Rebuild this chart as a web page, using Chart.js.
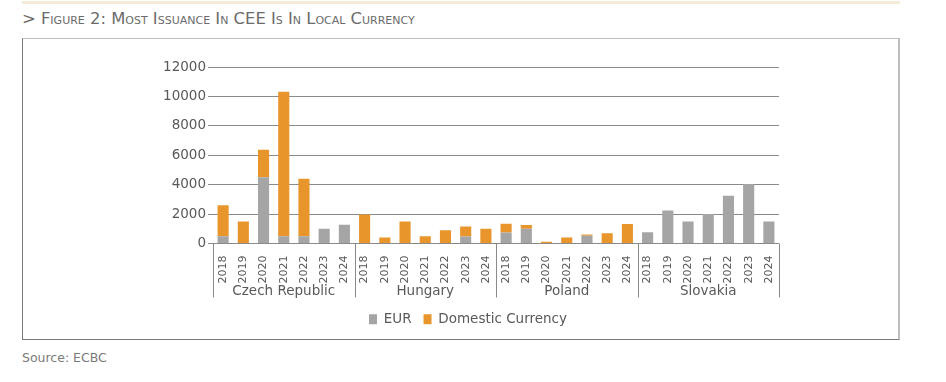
<!DOCTYPE html>
<html>
<head>
<meta charset="utf-8">
<script src="https://cdn.jsdelivr.net/npm/chart.js@4"></script>
<style>
  html, body { margin: 0; padding: 0; background: #fff; }
  body { width: 946px; height: 382px; position: relative; font-family: "DejaVu Sans", Verdana, sans-serif; }
  #topline { position: absolute; left: 22px; top: 1px; width: 878px; height: 3px; background: #f3ecd9; }
  #title { position: absolute; left: 22px; top: 9px; font-size: 16.4px; color: #6b6b6b; font-variant: small-caps; white-space: nowrap; }
  #box { position: absolute; left: 22px; top: 38px; width: 875px; height: 300px;
         border-top: 1px solid #bdbdbd; border-left: 1px solid #7a7a7a; border-bottom: 1px solid #7a7a7a; border-right: 2px solid #bdbdbd; }
  #source { position: absolute; left: 22px; top: 350px; font-size: 12.5px; color: #7a7a7a; }
  canvas { display: block; }
</style>
</head>
<body>
<div id="topline"></div>
<div id="title">&gt; Figure 2: Most Issuance In CEE Is In Local Currency</div>
<div id="box"><canvas id="c" width="875" height="300"></canvas></div>
<div id="source">Source: ECBC</div>
<script>
const countries = ["Czech Republic", "Hungary", "Poland", "Slovakia"];
const years = ["2018", "2019", "2020", "2021", "2022", "2023", "2024"];
const eurValues = [
  500, 0, 4500, 500, 500, 1000, 1270,
  0, 0, 0, 0, 0, 480, 0,
  750, 1000, 0, 0, 520, 0, 0,
  770, 2250, 1500, 2000, 3250, 4040, 1500
];
const domesticValues = [
  2100, 1500, 1870, 9820, 3900, 0, 0,
  1980, 410, 1500, 500, 900, 680, 1000,
  590, 250, 120, 410, 90, 700, 1320,
  0, 0, 0, 0, 0, 0, 0
];
const yTicks = [0, 2000, 4000, 6000, 8000, 10000, 12000];

const labels = [];
countries.forEach(() => years.forEach(y => labels.push(y)));

const textColor = "#595959";
const fontFamily = "'DejaVu Sans', Verdana, sans-serif";

const groupPlugin = {
  id: "groups",
  afterDraw(chart) {
    const xs = chart.scales.x;
    const ctx = chart.ctx;
    const area = chart.chartArea;
    const step = xs.getPixelForValue(1) - xs.getPixelForValue(0);
    const n = years.length;
    ctx.save();
    ctx.strokeStyle = "#8a8a8a";
    ctx.lineWidth = 1;
    for (let g = 0; g <= countries.length; g++) {
      const x = Math.round(xs.getPixelForValue(g * n) - step / 2) + 0.5;
      ctx.beginPath();
      ctx.moveTo(x, area.bottom);
      ctx.lineTo(x, area.bottom + 54);
      ctx.stroke();
    }
    ctx.fillStyle = textColor;
    ctx.font = "13.5px " + fontFamily;
    ctx.textAlign = "center";
    ctx.textBaseline = "middle";
    countries.forEach((c, g) => {
      const x0 = xs.getPixelForValue(g * n) - step / 2;
      const x1 = xs.getPixelForValue(g * n + n - 1) + step / 2;
      ctx.fillText(c, (x0 + x1) / 2, area.bottom + 48);
    });
    ctx.restore();
  }
};

new Chart(document.getElementById("c"), {
  type: "bar",
  data: {
    labels: labels,
    datasets: [
      { label: "EUR", data: eurValues, backgroundColor: "#a5a5a5", categoryPercentage: 1, barPercentage: 0.55 },
      { label: "Domestic Currency", data: domesticValues, backgroundColor: "#e8962c", categoryPercentage: 1, barPercentage: 0.55 }
    ]
  },
  options: {
    responsive: false,
    devicePixelRatio: 1,
    animation: false,
    layout: { padding: { left: 134, right: 119, top: 28, bottom: 3 } },
    plugins: {
      tooltip: { enabled: false },
      legend: {
        position: "bottom",
        labels: {
          boxWidth: 8, boxHeight: 10, padding: 12,
          color: textColor,
          font: { family: fontFamily, size: 13.5 }
        }
      }
    },
    scales: {
      x: {
        stacked: true,
        grid: { display: false },
        border: { display: false },
        ticks: {
          minRotation: 90, maxRotation: 90, autoSkip: false,
          color: textColor, padding: 4,
          font: { family: fontFamily, size: 11 }
        },
        afterFit(scale) { scale.height = 57; }
      },
      y: {
        stacked: true,
        min: 0, max: 12000,
        afterBuildTicks(scale) { scale.ticks = yTicks.map(v => ({ value: v })); },
        grid: { color: "#8a8a8a", tickLength: 5, tickColor: "#8a8a8a" },
        border: { display: false },
        ticks: {
          color: textColor, padding: 2,
          font: { family: fontFamily, size: 13.5 },
          callback: (v) => String(v)
        },
        afterFit(scale) { scale.width = 56; }
      }
    }
  },
  plugins: [groupPlugin]
});
</script>
</body>
</html>
